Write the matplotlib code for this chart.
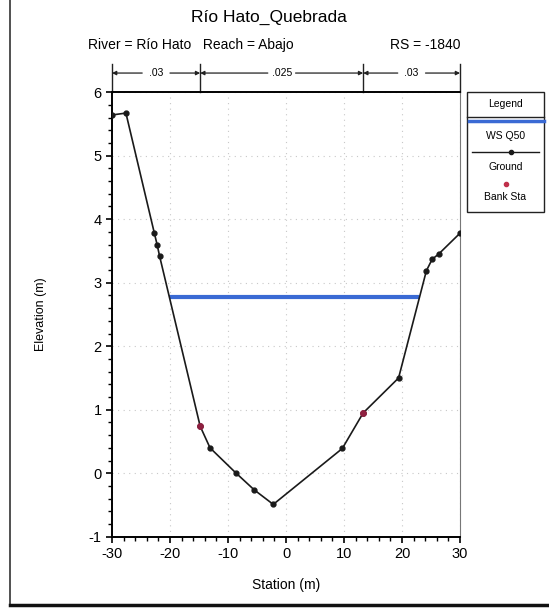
import matplotlib
matplotlib.use("Agg")
import matplotlib.pyplot as plt
from matplotlib.lines import Line2D
from matplotlib.patches import Rectangle
import numpy as np

plt.rcParams['font.family'] = ['Liberation Sans', 'DejaVu Sans']
plt.rcParams['axes.unicode_minus'] = False

# ground profile (station, elevation)
ground_sta = [-30.0, -27.6, -22.7, -22.2, -21.8, -14.8, -13.1, -8.7, -5.5, -2.2,
              9.7, 13.3, 19.4, 24.2, 25.2, 26.3, 30.0]
ground_elev = [5.64, 5.67, 3.78, 3.59, 3.42, 0.74, 0.40, 0.01, -0.26, -0.49,
               0.39, 0.95, 1.50, 3.19, 3.37, 3.45, 3.78]
bank_sta = [-14.8, 13.3]
bank_elev = [0.74, 0.95]
ws_sta = [-20.1, 23.0]
ws_elev = [2.77, 2.77]
n_values = ['.03', '.025', '.03']
n_breaks = [-30.0, -14.8, 13.3, 30.0]

fig = plt.figure(figsize=(5.49, 6.10), dpi=100)
ax = fig.add_axes([0.204, 0.120, 0.634, 0.729])

ax.plot(ws_sta, ws_elev, color='#3a6ad4', lw=3, solid_capstyle='butt', zorder=2)
ax.plot(ground_sta, ground_elev, color='#1a1a1a', lw=1.2, marker='o', ms=3.5, zorder=3)
ax.plot(bank_sta, bank_elev, ls='none', marker='o', ms=4, color='#8e2040', zorder=4)

ax.set_xlim(-30, 30)
ax.set_ylim(-1, 6)
ax.set_xticks(np.arange(-30, 31, 10))
ax.set_yticks(np.arange(-1, 7, 1))
ax.set_xticks(np.arange(-30, 31, 2), minor=True)
ax.set_yticks(np.arange(-1, 6.01, 0.2), minor=True)
ax.tick_params(which='major', direction='out', length=4, width=1.2, labelsize=10.5)
ax.tick_params(which='minor', direction='out', length=3, width=1.0)
ax.grid(True, which='major', color='#c8c8c8', ls=(0, (1, 4)), lw=0.8)
for s in ['left', 'bottom', 'top']:
    ax.spines[s].set_linewidth(1.4)
ax.spines['right'].set_linewidth(0.8)
ax.spines['right'].set_color('#777777')

ax.set_xlabel('Station (m)', fontsize=10, labelpad=12)
ax.set_ylabel('Elevation (m)', fontsize=9, labelpad=30)

# titles
fig.text(0.49, 0.972, 'Río Hato_Quebrada', ha='center', va='center', fontsize=12.5)
fig.text(0.16, 0.926, 'River = Río Hato   Reach = Abajo', ha='left', va='center', fontsize=10)
fig.text(0.838, 0.926, 'RS = -1840', ha='right', va='center', fontsize=10)

# Manning's n bar above the axes
ybar = 6.3
for i, lab in enumerate(n_values):
    x0, x1 = n_breaks[i], n_breaks[i + 1]
    xm = (x0 + x1) / 2
    for xe in (x0, x1):
        ax.annotate('', xy=(xe, ybar), xytext=(xm, ybar), xycoords='data',
                    arrowprops=dict(arrowstyle='-|>', color='#222222', lw=0.9,
                                    shrinkA=10, shrinkB=0, mutation_scale=6),
                    annotation_clip=False)
    ax.text(xm, ybar, lab, ha='center', va='center', fontsize=7.5,
            bbox=dict(fc='white', ec='none', pad=0.5), clip_on=False)
for xb in n_breaks:
    ax.plot([xb, xb], [6.0, 6.45], color='#222222', lw=1.0, clip_on=False)

# legend box
lx0, lx1 = 467 / 549, 544 / 549
ly_top, ly_bot = 1 - 92 / 610, 1 - 212 / 610
fig.add_artist(Rectangle((lx0, ly_bot), lx1 - lx0, ly_top - ly_bot, transform=fig.transFigure,
                         fill=False, ec='#222222', lw=1.0))
fig.add_artist(Line2D([lx0, lx1], [1 - 117 / 610] * 2, transform=fig.transFigure,
                      color='#222222', lw=1.0))
lxm = (lx0 + lx1) / 2
fig.text(lxm, 1 - 104 / 610, 'Legend', ha='center', va='center', fontsize=7.5)
fig.add_artist(Line2D([lx0 + 0.003, lx1], [1 - 121 / 610] * 2, transform=fig.transFigure,
                      color='#3a6ad4', lw=2.5))
fig.text(lxm, 1 - 136 / 610, 'WS Q50', ha='center', va='center', fontsize=7.5)
fig.add_artist(Line2D([lx0 + 0.01, lx1 - 0.01], [1 - 152 / 610] * 2, transform=fig.transFigure,
                      color='#1a1a1a', lw=1.0))
fig.add_artist(Line2D([lxm + 0.01], [1 - 152 / 610], transform=fig.transFigure,
                      color='#1a1a1a', marker='o', ms=3))
fig.text(lxm, 1 - 167 / 610, 'Ground', ha='center', va='center', fontsize=7.5)
fig.add_artist(Line2D([lxm], [1 - 184 / 610], transform=fig.transFigure,
                      color='#c0304a', marker='o', ms=3, ls='none'))
fig.text(lxm, 1 - 197 / 610, 'Bank Sta', ha='center', va='center', fontsize=7.5)

# page border
fig.add_artist(Line2D([10 / 549, 10 / 549], [1 - 605 / 610, 1.0], transform=fig.transFigure,
                      color='#333333', lw=1.2))
fig.add_artist(Line2D([10 / 549, 1.0], [1 - 605 / 610] * 2, transform=fig.transFigure,
                      color='#111111', lw=2.5))

fig.savefig('out.png', dpi=100)
